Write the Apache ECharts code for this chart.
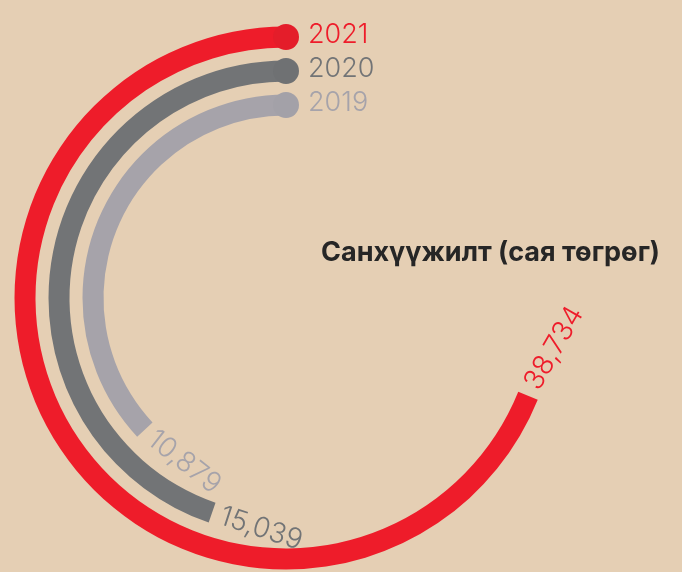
<!DOCTYPE html>
<html>
<head>
<meta charset="utf-8">
<style>
  html, body { margin: 0; padding: 0; background: #e5cfb4; }
  #main { width: 682px; height: 572px; }
</style>
<script src="https://cdn.jsdelivr.net/npm/echarts@6/dist/echarts.min.js"></script>
</head>
<body>
<div id="main"></div>
<script>
// years, inner ring first
var years = ['2019', '2020', '2021'];
// arc length of each ring in degrees, as drawn in the picture
var sweeps = [133, 161, 248];
// value printed at the end of each ring
var valueLabels = ['10,879', '15,039', '38,734'];
var colors = ['#a6a3aa', '#727476', '#ee1c2a'];
var capColors = ['#a3a1a8', '#6f7173', '#e41d2a'];
// small tilt of each value label away from the exact tangent (degrees)
var labelTilt = [9, 1, -8];

var chart = echarts.init(document.getElementById('main'));

// label text placed just past the end of each bar, along the arc
function renderValueLabel(params, api) {
    var idx = params.dataIndex;
    var cs = params.coordSys;
    var p = api.coord([api.value(0), api.value(1)]);
    var dx = p[0] - cs.cx;
    var dy = p[1] - cs.cy;
    var theta = Math.atan2(-dy, dx);
    var tang = theta + Math.PI / 2;
    var gap = 9;
    return {
        type: 'text',
        x: p[0] + Math.cos(tang) * gap,
        y: p[1] - Math.sin(tang) * gap,
        rotation: tang + labelTilt[idx] * Math.PI / 180,
        style: {
            text: valueLabels[idx],
            fill: colors[idx],
            font: '300 28px Inter, "Noto Sans", sans-serif',
            align: 'left',
            verticalAlign: 'middle'
        }
    };
}

var option = {
    backgroundColor: '#e5cfb4',
    animation: false,
    title: {
        text: 'Санхүүжилт (сая төгрөг)',
        left: 316,
        top: 234,
        textStyle: {
            fontFamily: 'Inter, "Noto Sans", sans-serif',
            fontWeight: 'bold',
            fontSize: 27,
            color: '#262626'
        }
    },
    polar: {
        center: [286, 298],
        radius: [176, 278]
    },
    angleAxis: {
        type: 'value',
        min: 0,
        max: 360,
        startAngle: 90,
        clockwise: false,
        show: false
    },
    radiusAxis: {
        type: 'category',
        data: years,
        show: false
    },
    series: [
        {
            type: 'bar',
            coordinateSystem: 'polar',
            barWidth: 21,
            data: sweeps.map(function (v, i) {
                return { value: v, itemStyle: { color: colors[i] } };
            })
        },
        {
            type: 'scatter',
            coordinateSystem: 'polar',
            symbol: 'circle',
            symbolSize: 26,
            itemStyle: { opacity: 1 },
            data: years.map(function (y, i) {
                return {
                    value: [i, 0],
                    itemStyle: { color: capColors[i] },
                    label: { color: colors[i] }
                };
            }),
            label: {
                show: true,
                position: 'right',
                distance: 9,
                offset: [0, -2],
                formatter: function (p) { return years[p.dataIndex]; },
                fontFamily: 'Inter, "Noto Sans", sans-serif',
                fontWeight: 300,
                fontSize: 27
            }
        },
        {
            type: 'custom',
            coordinateSystem: 'polar',
            data: sweeps.map(function (v, i) { return [i, v]; }),
            renderItem: renderValueLabel
        }
    ]
};

chart.setOption(option);
</script>
</body>
</html>
